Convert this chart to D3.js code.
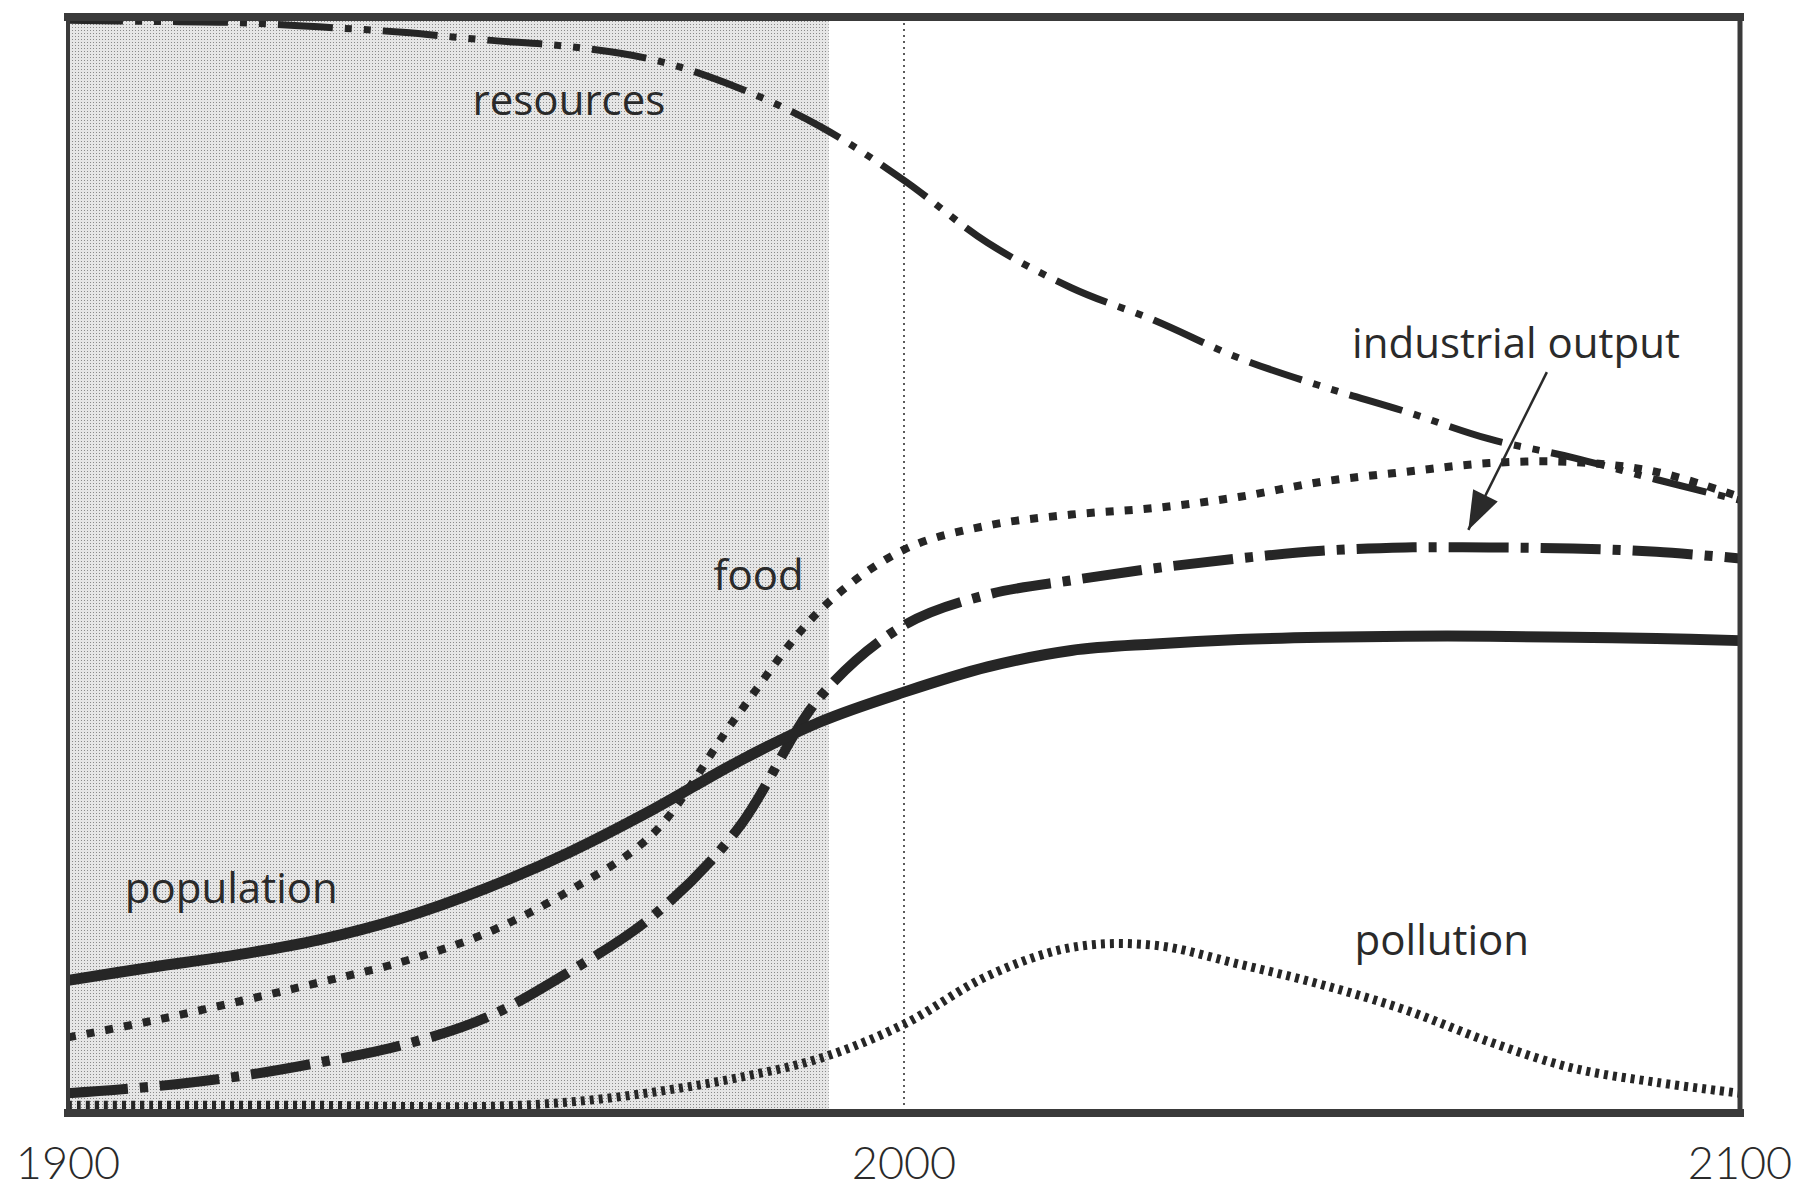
<!DOCTYPE html>
<html>
<head>
<meta charset="utf-8">
<script src="https://cdn.jsdelivr.net/npm/d3@7"></script>
<style>
    body { margin: 0; background: #fff; }
    text { font-family: "Open Sans", Lato, sans-serif; fill: #2a2a2a; }
</style>
</head>
<body>
<div id="chart"></div>
<script>
const years = [1900, 1910, 1920, 1930, 1940, 1950, 1960, 1970, 1980, 1990, 2000,
               2010, 2020, 2030, 2040, 2050, 2060, 2070, 2080, 2090, 2100];

const population = [12.1, 13.3, 14.4, 15.8, 17.8, 20.5, 23.8, 27.7, 32.0, 35.7, 38.4,
                    40.7, 42.2, 42.8, 43.2, 43.4, 43.5, 43.5, 43.4, 43.3, 43.1];
const food = [6.9, 8.4, 10.1, 11.9, 13.8, 16.4, 20.3, 25.5, 36.2, 45.9, 51.4,
              53.6, 54.6, 55.2, 56.2, 57.6, 58.5, 59.3, 59.4, 58.5, 56.2];
const industrialOutput = [1.8, 2.4, 3.3, 4.6, 6.2, 8.7, 12.9, 18.0, 25.8, 38.0, 44.5,
                          47.3, 48.6, 49.7, 50.6, 51.3, 51.6, 51.6, 51.5, 51.2, 50.6];
const resources = [99.7, 99.6, 99.5, 99.1, 98.6, 97.9, 97.3, 96.1, 93.6, 90.0, 85.1,
                   79.4, 75.3, 72.3, 68.9, 66.3, 64.0, 61.5, 59.8, 57.8, 55.9];
const pollution = [0.7, 0.7, 0.7, 0.7, 0.6, 0.6, 1.0, 1.9, 3.2, 5.0, 8.1,
                   12.5, 15.1, 15.3, 13.6, 11.7, 9.4, 6.5, 4.1, 2.8, 1.8];

const tickYears = [1900, 2000, 2100];
const historyEnd = 1991;

const margin = { top: 17, right: 56, bottom: 80, left: 68 };
const width = 1796 - margin.left - margin.right;
const height = 1193 - margin.top - margin.bottom;

const svg = d3.select('#chart')
    .append('svg')
    .attr('width', 1796)
    .attr('height', 1193);

const defs = svg.append('defs');

// speckled grey for the "history" part of the run
const speckle = defs.append('pattern')
    .attr('id', 'speckle')
    .attr('width', 3)
    .attr('height', 3)
    .attr('patternUnits', 'userSpaceOnUse');
speckle.append('rect').attr('width', 3).attr('height', 3).attr('fill', '#e6e6e6');
speckle.append('rect').attr('x', 1).attr('y', 1).attr('width', 1).attr('height', 1).attr('fill', '#8a8a8a');

defs.append('marker')
    .attr('id', 'arrowhead')
    .attr('viewBox', '0 0 14 10')
    .attr('refX', 14)
    .attr('refY', 5)
    .attr('markerWidth', 16)
    .attr('markerHeight', 11)
    .attr('markerUnits', 'strokeWidth')
    .attr('orient', 'auto')
    .append('path')
    .attr('d', 'M0,0 L14,5 L0,10 Z')
    .attr('fill', '#2a2a2a');

const g = svg.append('g')
    .attr('transform', `translate(${margin.left}, ${margin.top})`);

const xScale = d3.scaleLinear()
    .domain([1900, 2100])
    .range([0, width]);

const yScale = d3.scaleLinear()
    .domain([0, 100])
    .range([height, 0]);

g.append('rect')
    .attr('x', xScale(1900))
    .attr('y', 0)
    .attr('width', xScale(historyEnd) - xScale(1900))
    .attr('height', height)
    .attr('fill', 'url(#speckle)');

g.append('line')
    .attr('x1', xScale(2000))
    .attr('x2', xScale(2000))
    .attr('y1', 0)
    .attr('y2', height)
    .attr('stroke', '#333')
    .attr('stroke-width', 1.6)
    .attr('stroke-dasharray', '2,4');

const series = [
    { name: 'resources', values: resources, width: 7, dash: '55,12,7,12,7,12' },
    { name: 'food', values: food, width: 8, dash: '8,11' },
    { name: 'industrial output', values: industrialOutput, width: 10, dash: '60,12,8,12' },
    { name: 'population', values: population, width: 11, dash: null },
    { name: 'pollution', values: pollution, width: 9, dash: '4,5' }
];

const line = d3.line()
    .x(d => xScale(d.year))
    .y(d => yScale(d.value))
    .curve(d3.curveCatmullRom.alpha(0.5));

g.selectAll('.series')
    .data(series)
    .enter()
    .append('path')
    .attr('class', 'series')
    .attr('d', s => line(years.map((year, i) => ({ year: year, value: s.values[i] }))))
    .attr('fill', 'none')
    .attr('stroke', '#262626')
    .attr('stroke-width', s => s.width)
    .attr('stroke-dasharray', s => s.dash);

// frame
const frame = [
    { x1: 0, y1: 0, x2: width, y2: 0, w: 8 },
    { x1: 0, y1: height, x2: width, y2: height, w: 8 },
    { x1: 0, y1: 0, x2: 0, y2: height, w: 4 },
    { x1: width, y1: 0, x2: width, y2: height, w: 5 }
];
g.selectAll('.frame')
    .data(frame)
    .enter()
    .append('line')
    .attr('class', 'frame')
    .attr('x1', d => d.x1)
    .attr('y1', d => d.y1)
    .attr('x2', d => d.x2)
    .attr('y2', d => d.y2)
    .attr('stroke', '#3a3a3a')
    .attr('stroke-width', d => d.w)
    .attr('stroke-linecap', 'square');

g.selectAll('.year-label')
    .data(tickYears)
    .enter()
    .append('text')
    .attr('class', 'year-label')
    .attr('x', d => xScale(d))
    .attr('y', height + 66)
    .attr('text-anchor', 'middle')
    .style('font-family', 'Lato, sans-serif')
    .style('font-size', '45px')
    .style('font-weight', '300')
    .text(d => d);

const labels = [
    { text: 'resources', year: 1948.4, value: 91.1 },
    { text: 'food', year: 1977.2, value: 47.7 },
    { text: 'population', year: 1906.8, value: 19.2 },
    { text: 'pollution', year: 2053.9, value: 14.4 },
    { text: 'industrial output', year: 2053.6, value: 68.9 }
];

g.selectAll('.series-label')
    .data(labels)
    .enter()
    .append('text')
    .attr('class', 'series-label')
    .attr('x', d => xScale(d.year))
    .attr('y', d => yScale(d.value))
    .style('font-size', '42px')
    .text(d => d.text);

// arrow from "industrial output" down to its curve
g.append('line')
    .attr('x1', xScale(2076.9))
    .attr('y1', yScale(67.6))
    .attr('x2', xScale(2067.5))
    .attr('y2', yScale(53.2))
    .attr('stroke', '#2a2a2a')
    .attr('stroke-width', 2.5)
    .attr('marker-end', 'url(#arrowhead)');
</script>
</body>
</html>
